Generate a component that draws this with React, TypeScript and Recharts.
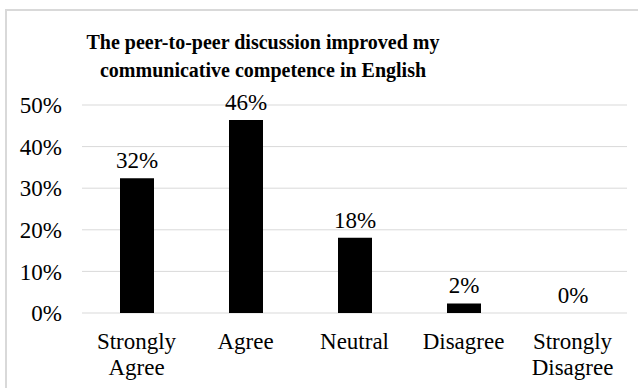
import React from "react";
import { BarChart, Bar, XAxis, YAxis, CartesianGrid, LabelList } from "recharts";

const categories = ["Strongly Agree", "Agree", "Neutral", "Disagree", "Strongly Disagree"];
const shares = [0.324, 0.464, 0.181, 0.023, 0];
const yTicks = [0, 0.1, 0.2, 0.3, 0.4, 0.5];

const titleLines = [
  "The peer-to-peer discussion improved my",
  "communicative competence in English",
];

const data = categories.map((name, i) => ({ name, value: shares[i] }));

const FONT = '"Liberation Serif", "Times New Roman", Tinos, monospace';
const pct = (v: number) => `${Math.round(v * 100)}%`;

function CategoryTick(props: any) {
  const { x, y, payload } = props;
  const words: string[] = String(payload.value).split(" ");
  return (
    <text x={x} y={y} textAnchor="middle" style={{ fontFamily: FONT }} fontSize={23} fill="#000">
      {words.map((w, i) => (
        <tspan key={i} x={x} dy={i === 0 ? 16 : 26}>
          {w}
        </tspan>
      ))}
    </text>
  );
}

// zero-height bars get no label from LabelList, so labels are drawn per bar here
function ValueLabel(props: any) {
  const { x, y, width, value } = props;
  return (
    <text
      x={x + width / 2}
      y={y - 10}
      textAnchor="middle"
      style={{ fontFamily: FONT }}
      fontSize={23}
      fill="#000"
    >
      {pct(Number(value))}
    </text>
  );
}

export default function App() {
  return (
    <div
      style={{
        position: "absolute",
        left: 0,
        top: 0,
        width: 638,
        height: 388,
        overflow: "hidden",
        background: "#fff",
        fontFamily: FONT,
      }}
    >
      <div
        style={{
          position: "absolute",
          left: 5,
          top: 9,
          width: 700,
          height: 500,
          borderTop: "2px solid #d9d9d9",
          borderLeft: "2px solid #d9d9d9",
        }}
      />
      <div
        style={{
          position: "absolute",
          left: 13,
          top: 28,
          width: 500,
          textAlign: "center",
          fontFamily: FONT,
          fontWeight: "bold",
          fontSize: 20,
          lineHeight: "28px",
          color: "#000",
        }}
      >
        {titleLines.map((t) => (
          <div key={t}>{t}</div>
        ))}
      </div>
      <BarChart
        width={638}
        height={388}
        data={data}
        margin={{ top: 105, right: 11, bottom: 0, left: 0 }}
        style={{ position: "absolute", left: 0, top: 0, fontFamily: FONT }}
      >
        <CartesianGrid vertical={false} stroke="#d9d9d9" />
        <XAxis
          dataKey="name"
          axisLine={false}
          tickLine={false}
          interval={0}
          height={75}
          tick={<CategoryTick />}
          tickMargin={14}
        />
        <YAxis
          width={82}
          domain={[0, 0.5]}
          ticks={yTicks}
          axisLine={false}
          tickLine={false}
          tickMargin={14}
          tickFormatter={pct}
          tick={{ fill: "#000", fontSize: 23, style: { fontFamily: FONT } }}
        />
        <Bar
          dataKey="value"
          fill="#000"
          barSize={34}
          minPointSize={0.01}
          isAnimationActive={false}
        >
          <LabelList dataKey="value" content={<ValueLabel />} />
        </Bar>
      </BarChart>
    </div>
  );
}
